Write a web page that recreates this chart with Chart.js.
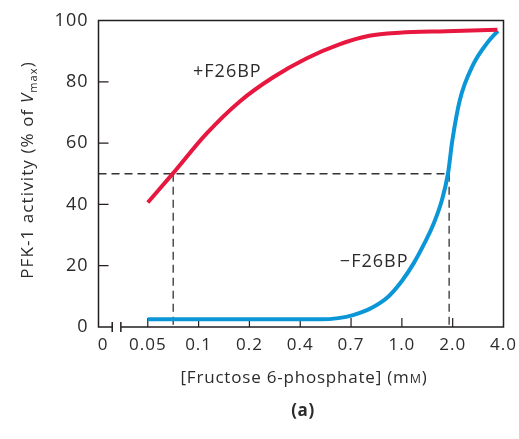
<!DOCTYPE html>
<html><head><meta charset="utf-8">
<script src="https://cdn.jsdelivr.net/npm/chart.js@4.4.1/dist/chart.umd.min.js"></script>
<style>html,body{margin:0;padding:0;background:#fff;overflow:hidden}</style>
</head><body>
<canvas id="c" width="519" height="439"></canvas>
<script>
// x positions are in "tick slot" units: each labelled concentration occupies one evenly spaced slot
const xTickPositions = [0.12, 1, 2, 3, 4, 5, 6, 7, 8];
const xTickLabels = ['0', '0.05', '0.1', '0.2', '0.4', '0.7', '1.0', '2.0', '4.0'];
const yTickValues = [0, 20, 40, 60, 80, 100];

// +F26BP curve
const withF26BP_x = [1.0, 1.5, 2.15, 2.81, 3.46, 4.12, 4.77, 5.36, 5.95, 6.87, 7.88];
const withF26BP_y = [40.6, 50.2, 63.0, 73.6, 81.4, 87.6, 92.2, 95.0, 96.0, 96.5, 97.0];

// -F26BP curve
const withoutF26BP_x = [1.0, 4.4, 4.75, 5.04, 5.4, 5.72, 6.0, 6.24, 6.45, 6.62, 6.79, 6.91, 6.99, 7.14, 7.40, 7.68, 7.89];
const withoutF26BP_y = [2.5, 2.5, 2.9, 3.9, 6.2, 9.7, 15.0, 21.0, 27.5, 33.5, 41.5, 50.3, 60.5, 74.0, 85.5, 92.7, 96.6];

const halfMax = 50;
const halfX_with = 1.5;
const halfX_without = 6.93;
const axisBreak = [0.3, 0.47];

const RED = '#e8173f';
const BLUE = '#0b96d8';
const INK = '#231f20';
const TXT = '#2b2b2b';
const FONT = '"Open Sans", "Noto Sans", sans-serif';

function pts(xs, ys) { return xs.map((v, i) => ({x: v, y: ys[i]})); }

function richText(ctx, segs, cx, cy) {
  let w = 0;
  segs.forEach(s => { ctx.font = s.font; w += ctx.measureText(s.t).width; });
  let xx = cx - w / 2;
  segs.forEach(s => {
    ctx.font = s.font;
    ctx.fillText(s.t, xx, cy + (s.dy || 0));
    xx += ctx.measureText(s.t).width;
  });
}

const decor = {
  id: 'decor',
  beforeDraw(chart) {
    chart.ctx.letterSpacing = '1px';
  },
  beforeDatasetsDraw(chart) {
    const {ctx, chartArea: a, scales: {x, y}} = chart;
    ctx.save();
    // dashed guides
    ctx.setLineDash([8, 5]);
    ctx.lineWidth = 1.3;
    ctx.strokeStyle = '#333';
    const yh = y.getPixelForValue(halfMax);
    const x1 = x.getPixelForValue(halfX_with);
    const x2 = x.getPixelForValue(halfX_without);
    ctx.beginPath();
    ctx.moveTo(a.left, yh); ctx.lineTo(x2, yh);
    ctx.moveTo(x1, yh); ctx.lineTo(x1, a.bottom);
    ctx.moveTo(x2, yh); ctx.lineTo(x2, a.bottom);
    ctx.stroke();
    ctx.setLineDash([]);
    // frame
    ctx.strokeStyle = INK;
    ctx.lineWidth = 1.5;
    const b1 = x.getPixelForValue(axisBreak[0]);
    const b2 = x.getPixelForValue(axisBreak[1]);
    ctx.beginPath();
    ctx.moveTo(b1, a.bottom); ctx.lineTo(a.left, a.bottom);
    ctx.lineTo(a.left, a.top); ctx.lineTo(a.right, a.top);
    ctx.lineTo(a.right, a.bottom); ctx.lineTo(b2, a.bottom);
    ctx.moveTo(b1, a.bottom - 5); ctx.lineTo(b1, a.bottom + 5);
    ctx.moveTo(b2, a.bottom - 5); ctx.lineTo(b2, a.bottom + 5);
    ctx.stroke();
    // inward tick marks
    ctx.lineWidth = 1.2;
    ctx.beginPath();
    for (let i = 1; i < xTickPositions.length - 1; i++) {
      const px = x.getPixelForValue(xTickPositions[i]);
      ctx.moveTo(px, a.bottom); ctx.lineTo(px, a.bottom - 9);
    }
    for (let i = 1; i < yTickValues.length - 1; i++) {
      const py = y.getPixelForValue(yTickValues[i]);
      ctx.moveTo(a.left, py); ctx.lineTo(a.left + 10, py);
    }
    ctx.stroke();
    ctx.restore();
  },
  afterDraw(chart) {
    const {ctx, scales: {x, y}} = chart;
    ctx.save();
    ctx.fillStyle = TXT;
    ctx.textBaseline = 'middle';
    ctx.textAlign = 'left';
    ctx.letterSpacing = '1px';
    ctx.font = '18px ' + FONT;
    ctx.fillText('+F26BP', x.getPixelForValue(1.89), y.getPixelForValue(83.2));
    ctx.fillText('\u2212F26BP', x.getPixelForValue(4.78), y.getPixelForValue(21.3));
    // x title
    ctx.letterSpacing = '0.8px';
    ctx.textBaseline = 'alphabetic';
    richText(ctx, [
      {t: '[Fructose 6-phosphate] (m', font: '17px ' + FONT},
      {t: 'M', font: '12.5px ' + FONT},
      {t: ')', font: '17px ' + FONT}
    ], 304, 383);
    // panel label
    ctx.letterSpacing = '0.5px';
    ctx.textBaseline = 'middle';
    ctx.font = 'bold 17px ' + FONT;
    ctx.textAlign = 'center';
    ctx.fillText('(a)', 303, 411);
    // y title
    ctx.letterSpacing = '1.1px';
    ctx.textAlign = 'left';
    ctx.textBaseline = 'alphabetic';
    ctx.translate(33, 170);
    ctx.rotate(-Math.PI / 2);
    richText(ctx, [
      {t: 'PFK-1 activity (% of ', font: '17px ' + FONT},
      {t: 'V', font: 'italic 17px ' + FONT},
      {t: 'max', font: '11px ' + FONT, dy: 4},
      {t: ')', font: '17px ' + FONT}
    ], 0, 0);
    ctx.restore();
  }
};

new Chart(document.getElementById('c'), {
  type: 'line',
  data: {
    datasets: [
      {label: '+F26BP', data: pts(withF26BP_x, withF26BP_y), borderColor: RED, borderWidth: 4,
       pointRadius: 0, cubicInterpolationMode: 'monotone', fill: false},
      {label: '-F26BP', data: pts(withoutF26BP_x, withoutF26BP_y), borderColor: BLUE, borderWidth: 4,
       pointRadius: 0, cubicInterpolationMode: 'monotone', fill: false}
    ]
  },
  options: {
    responsive: false,
    animation: false,
    events: [],
    layout: {padding: {top: 20.5, right: 15.5, left: 0, bottom: 0}},
    plugins: {legend: {display: false}, tooltip: {enabled: false}},
    scales: {
      x: {
        type: 'linear', min: 0.03, max: 8,
        afterBuildTicks: s => { s.ticks = xTickPositions.map(v => ({value: v})); },
        afterFit: s => { s.height = 112; s.paddingLeft = 0; s.paddingRight = 0; },
        grid: {display: false, drawTicks: false},
        border: {display: false},
        ticks: {autoSkip: false, maxRotation: 0, padding: 8, color: TXT,
                font: {family: FONT, size: 17},
                callback: (v, i) => xTickLabels[i]}
      },
      y: {
        type: 'linear', min: 0, max: 100,
        afterBuildTicks: s => { s.ticks = yTickValues.map(v => ({value: v})); },
        afterFit: s => { s.width = 98.5; s.paddingTop = 0; s.paddingBottom = 0; },
        grid: {display: false, drawTicks: false},
        border: {display: false},
        ticks: {padding: 10, color: TXT, font: {family: FONT, size: 18}}
      }
    }
  },
  plugins: [decor]
});
</script>
</body></html>
